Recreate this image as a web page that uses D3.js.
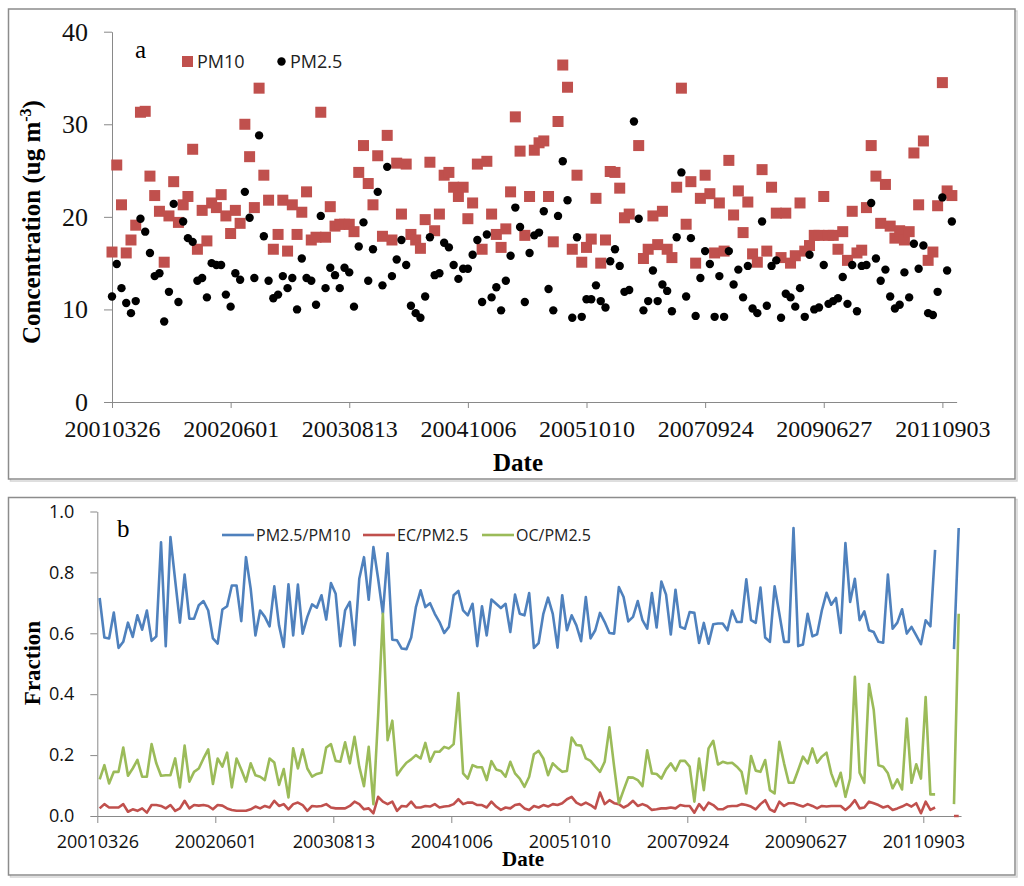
<!DOCTYPE html>
<html><head><meta charset="utf-8">
<script src="https://cdn.jsdelivr.net/npm/d3@7"></script>
<style>body{margin:0;background:#fff}svg{display:block}</style>
</head><body>
<svg id="c" width="1024" height="886"></svg>
<script>
// ---------- DATA ----------
const dateLabels = ["20010326","20020601","20030813","20041006","20051010","20070924","20090627","20110903"];
const labelIndex = [0,25,50,75,100,125,150,175];

const pm10 = [16.2,25.6,21.3,16.1,17.5,19.1,31.3,31.4,24.4,22.3,
20.6,15.1,20.1,23.8,19.4,21.3,22.2,27.3,16.5,20.7,
17.4,21.5,21.0,22.4,20.1,18.2,20.7,19.3,30.0,26.5,
21.0,33.9,24.5,21.8,16.5,18.1,21.8,16.3,21.3,18.1,
20.5,22.7,17.5,17.8,31.3,17.8,21.1,19.0,19.2,19.2,
19.2,18.4,24.8,27.7,23.6,21.3,26.6,17.9,28.8,17.5,
25.8,20.3,25.7,18.1,17.5,16.6,19.7,25.9,18.5,20.3,
24.5,24.8,23.2,22.2,23.2,19.8,21.5,25.7,16.5,26.0,
20.3,18.1,16.7,18.7,22.7,30.8,27.1,18.0,22.2,27.2,
28.0,28.2,22.2,17.3,30.3,36.4,34.0,16.5,24.5,15.1,
16.7,17.6,22.0,15.0,17.5,24.9,24.8,23.1,19.9,20.3,
null,27.7,15.5,16.5,20.1,17.0,20.6,16.5,15.6,23.2,
33.9,19.2,23.8,15.0,22.0,24.5,22.5,16.1,21.5,16.3,
26.1,20.2,22.8,18.3,21.6,16.0,15.1,25.1,16.3,23.2,
20.4,15.6,20.4,15.0,15.8,21.5,16.3,16.9,18.0,18.0,
22.2,18.0,18.0,16.5,18.4,15.3,20.6,16.1,16.4,21.0,
27.7,24.4,19.3,23.5,19.0,17.7,18.5,17.5,18.4,26.9,
21.3,28.2,15.3,16.2,21.2,34.5,22.8,22.3];

const pm25 = [11.4,14.9,12.3,10.7,9.6,10.9,19.8,18.4,16.1,13.6,
13.9,8.7,11.9,21.4,10.8,19.5,17.7,17.3,13.1,13.4,
11.3,15.0,14.8,14.8,11.6,10.3,13.9,13.2,22.7,19.9,
13.4,28.8,17.9,13.1,11.2,11.6,13.6,12.3,13.4,10.0,
15.5,13.4,13.1,10.5,20.1,12.3,14.5,13.7,12.3,14.5,
14.0,10.3,16.8,19.4,13.1,16.5,22.7,12.6,25.4,13.6,
15.4,17.5,14.8,10.4,9.6,9.1,11.4,17.8,13.7,13.9,
17.2,16.7,14.8,13.3,14.4,14.4,15.9,17.5,10.8,18.1,
11.3,12.4,9.9,13.1,15.8,21.0,18.9,10.8,16.1,18.0,
18.3,20.6,12.2,9.9,20.1,26.0,21.8,9.1,17.8,9.2,
11.1,11.1,12.6,10.9,10.2,15.2,16.5,14.7,11.9,12.1,
30.3,19.8,9.9,10.9,14.2,10.9,12.7,12.0,9.8,17.8,
24.8,11.4,17.7,9.3,13.4,16.3,14.9,9.2,13.6,9.2,
16.3,12.7,14.3,11.3,14.7,10.1,9.6,19.5,10.4,14.7,
15.3,9.1,11.7,11.3,10.3,12.3,9.2,15.9,10.0,10.2,
14.8,10.6,10.9,11.2,13.5,10.6,14.8,9.8,14.7,14.8,
21.5,15.5,13.1,14.3,11.4,10.1,10.5,14.0,11.3,17.1,
14.4,16.9,9.6,9.4,11.9,22.1,14.2,19.5];

const ratioPM = [0.716,0.586,0.583,0.668,0.552,0.572,0.635,0.588,0.659,0.612,
0.675,0.575,0.590,0.899,0.558,0.916,0.774,0.635,0.793,0.648,
0.648,0.692,0.706,0.675,0.583,0.566,0.678,0.689,0.757,0.757,
0.640,0.850,0.746,0.593,0.675,0.654,0.623,0.754,0.626,0.555,
0.761,0.593,0.760,0.599,0.654,0.695,0.684,0.725,0.645,0.765,
0.730,0.558,0.675,0.703,0.561,0.779,0.850,0.710,0.883,0.779,
0.664,0.863,0.579,0.577,0.550,0.548,0.586,0.686,0.741,0.686,
0.699,0.664,0.637,0.601,0.621,0.725,0.739,0.675,0.659,0.697,
0.558,0.689,0.593,0.711,0.697,0.683,0.697,0.604,0.727,0.664,
0.659,0.732,0.552,0.568,0.664,0.717,0.664,0.553,0.725,0.610,
0.659,0.626,0.574,0.719,0.583,0.610,0.667,0.637,0.601,0.599,
0.752,0.719,0.639,0.654,0.706,0.643,0.615,0.732,0.619,0.770,
0.727,0.596,0.743,0.621,0.615,0.670,0.667,0.568,0.634,0.566,
0.630,0.632,0.632,0.610,0.675,0.637,0.637,0.777,0.643,0.634,
0.750,0.586,0.572,0.754,0.664,0.572,0.572,0.946,0.558,0.563,
0.664,0.590,0.597,0.675,0.733,0.694,0.716,0.601,0.896,0.703,
0.779,0.643,0.672,0.610,0.604,0.572,0.569,0.793,0.615,0.635,
0.679,0.599,0.621,0.593,0.564,0.643,0.623,0.874,null,null,
null,0.548,0.946];

const ecRatio = [0.025,0.039,0.028,0.028,0.028,0.039,0.014,0.022,0.017,0.025,
0.011,0.036,0.036,0.033,0.025,0.036,0.017,0.025,0.050,0.025,
0.036,0.034,0.036,0.033,0.022,0.036,0.034,0.025,0.020,0.017,
0.017,0.017,0.022,0.031,0.025,0.033,0.028,0.050,0.033,0.039,
0.022,0.039,0.044,0.036,0.017,0.033,0.031,0.033,0.039,0.028,
0.025,0.025,0.025,0.033,0.047,0.039,0.022,0.025,0.009,0.063,
0.047,0.039,0.047,0.017,0.033,0.031,0.047,0.028,0.028,0.033,
0.031,0.039,0.028,0.031,0.033,0.039,0.055,0.039,0.044,0.044,
0.036,0.036,0.028,0.047,0.031,0.020,0.028,0.025,0.036,0.039,
0.025,0.020,0.033,0.028,0.036,0.031,0.039,0.036,0.042,0.055,
0.063,0.044,0.036,0.044,0.036,0.025,0.077,0.039,0.052,0.042,
0.039,0.028,0.036,0.050,0.033,0.039,0.033,0.020,0.022,0.025,
0.025,0.028,0.025,0.036,0.033,0.033,0.011,0.039,0.020,0.044,
0.036,0.022,0.022,0.031,0.033,0.033,0.039,0.036,0.031,0.022,
0.039,0.052,0.022,0.014,0.047,0.033,0.042,0.042,0.036,0.031,
0.039,0.033,0.025,0.033,0.031,0.033,0.033,0.033,0.020,0.033,
0.052,0.025,0.028,0.047,0.042,0.036,0.028,0.033,0.020,0.025,
0.031,0.039,0.031,0.042,0.009,0.047,0.020,0.028,null,null,
null,0.0,0.0];

const ocRatio = [0.120,0.167,0.107,0.145,0.145,0.225,0.132,0.156,0.184,0.129,
0.129,0.236,0.173,0.132,0.134,0.134,0.189,0.094,0.231,0.113,
0.145,0.156,0.189,0.219,0.105,0.189,0.162,0.208,0.094,0.189,
0.153,0.113,0.173,0.134,0.129,0.118,0.189,0.176,0.102,0.154,
0.061,0.222,0.156,0.219,0.156,0.129,0.138,0.142,0.225,0.236,
0.181,0.178,0.242,0.173,0.260,0.162,0.098,0.227,0.039,0.330,
0.664,0.249,0.313,0.134,0.156,0.175,0.186,0.200,0.189,0.240,
0.178,0.211,0.211,0.227,0.222,0.236,0.404,0.140,0.123,0.167,
0.160,0.160,0.118,0.180,0.153,0.148,0.129,0.178,0.140,0.123,
0.096,0.129,0.203,0.214,0.189,0.134,0.173,0.158,0.145,0.148,
0.258,0.233,0.231,0.189,0.181,0.162,0.145,0.178,0.291,0.162,
0.042,0.085,0.127,0.126,0.118,0.098,0.216,0.140,0.138,0.123,
0.153,0.173,0.149,0.181,0.181,0.162,0.047,0.189,0.085,0.222,
0.247,0.169,0.178,0.173,0.175,0.162,0.145,0.074,0.197,0.149,
0.145,0.184,0.085,0.074,0.244,0.173,0.109,0.109,0.151,0.195,
0.173,0.222,0.175,0.195,0.208,0.140,0.098,0.142,0.063,0.123,
0.457,0.142,0.109,0.433,0.348,0.167,0.162,0.140,0.091,0.120,
0.087,0.320,0.109,0.170,0.123,0.391,0.071,0.071,null,null,
null,0.039,0.664];

const yTicksA = [0,10,20,30,40];
const yTicksB = [0,0.2,0.4,0.6,0.8,1.0];

// ---------- DRAW ----------
const svg = d3.select("#c");
const AX = "#898989";
const serif = "'Liberation Serif','Times New Roman',serif";
const sans = "'Open Sans','Liberation Sans',sans-serif";
const C = {pm10:"#C0504D", pm25:"#000000", blue:"#4F81BD", red:"#C0504D", green:"#9BBB59"};

// panel frames (with light shadow)
[[8.5,9,1006.5,470],[8.5,497.5,1006.5,377.5]].forEach(([x,y,w,h])=>{
  svg.append("rect").attr("x",x+2).attr("y",y+2).attr("width",w).attr("height",h)
    .attr("fill","none").attr("stroke","#d4d4d4").attr("stroke-width",1.5);
  svg.append("rect").attr("x",x).attr("y",y).attr("width",w).attr("height",h)
    .attr("fill","#fff").attr("stroke","#8c8c8c").attr("stroke-width",1.5);
});

// ===== Panel a =====
const nA = pm10.length;
const xA = d3.scaleLinear().domain([0, nA]).range([112, 112 + nA*4.745]);
const yA = d3.scaleLinear().domain([0, 40]).range([402, 31.7]);

function styleAxis(g, font, size){
  g.selectAll("path,line").attr("stroke", AX).attr("stroke-width",1);
  g.selectAll("text").attr("font-family", font).attr("font-size", size).attr("fill","#111");
}

const gxA = svg.append("g").attr("transform","translate(0,402)")
  .call(d3.axisBottom(xA).tickValues(labelIndex).tickFormat((d,i)=>dateLabels[i])
    .tickSize(6).tickSizeOuter(0).tickPadding(12));
styleAxis(gxA, serif, 24);
const gyA = svg.append("g").attr("transform","translate(112,0)")
  .call(d3.axisLeft(yA).tickValues(yTicksA).tickFormat(d3.format("d"))
    .tickSize(8).tickSizeOuter(0).tickPadding(16));
styleAxis(gyA, serif, 26);

// squares PM10
const sq = 11;
svg.append("g").selectAll("rect").data(pm10.map((v,i)=>({v,i})).filter(d=>d.v!=null))
  .join("rect")
  .attr("x", d=>xA(d.i)-sq/2).attr("y", d=>yA(d.v)-sq/2)
  .attr("width", sq).attr("height", sq).attr("fill", C.pm10);
// dots PM2.5
svg.append("g").selectAll("circle").data(pm25.map((v,i)=>({v,i})).filter(d=>d.v!=null))
  .join("circle")
  .attr("cx", d=>xA(d.i)).attr("cy", d=>yA(d.v)).attr("r", 4.2).attr("fill", C.pm25);

// label a + legend
svg.append("text").attr("x",135).attr("y",58).attr("font-family",serif).attr("font-size",25).text("a");
svg.append("rect").attr("x",182).attr("y",56).attr("width",11).attr("height",11).attr("fill",C.pm10);
svg.append("text").attr("x",197).attr("y",68).attr("font-family",sans).attr("font-size",18).attr("fill","#222").text("PM10");
svg.append("circle").attr("cx",281.5).attr("cy",61.5).attr("r",4.2).attr("fill",C.pm25);
svg.append("text").attr("x",290).attr("y",68).attr("font-family",sans).attr("font-size",18).attr("fill","#222").text("PM2.5");

// axis titles a
const ytA = svg.append("text").attr("transform","translate(40,222) rotate(-90)")
  .attr("text-anchor","middle").attr("font-family",serif).attr("font-size",25).attr("font-weight","bold");
ytA.append("tspan").text("Concentration (ug m");
ytA.append("tspan").attr("dy",-9).attr("font-size",16).text("-3");
ytA.append("tspan").attr("dy",9).text(")");
svg.append("text").attr("x",518).attr("y",471).attr("text-anchor","middle")
  .attr("font-family",serif).attr("font-size",25).attr("font-weight","bold").text("Date");

// ===== Panel b =====
const nB = ratioPM.length;
const xB = d3.scaleLinear().domain([0, nB]).range([97.3, 97.3 + nB*4.72]);
const yB = d3.scaleLinear().domain([0, 1]).range([816, 511.5]);

const gxB = svg.append("g").attr("transform","translate(0,816)")
  .call(d3.axisBottom(xB).tickValues(labelIndex).tickFormat((d,i)=>dateLabels[i])
    .tickSize(7).tickSizeOuter(0).tickPadding(12));
styleAxis(gxB, sans, 18);
const gyB = svg.append("g").attr("transform","translate(97.3,0)")
  .call(d3.axisLeft(yB).tickValues(yTicksB).tickFormat(d3.format(".1f"))
    .tickSize(7).tickSizeOuter(0).tickPadding(16));
styleAxis(gyB, sans, 18);

const line = d3.line().defined(d=>d.v!=null).x(d=>xB(d.i+0.5)).y(d=>yB(d.v));
[[ratioPM,C.blue],[ecRatio,C.red],[ocRatio,C.green]].forEach(([arr,col])=>{
  svg.append("path").datum(arr.map((v,i)=>({v,i})))
    .attr("d", line).attr("fill","none").attr("stroke",col)
    .attr("stroke-width",2.6).attr("stroke-linejoin","round");
});

svg.append("text").attr("x",117).attr("y",537).attr("font-family",serif).attr("font-size",25).text("b");
const legB = [["PM2.5/PM10",C.blue,222],["EC/PM2.5",C.red,363],["OC/PM2.5",C.green,482]];
legB.forEach(([t,col,x])=>{
  svg.append("line").attr("x1",x).attr("x2",x+32).attr("y1",535).attr("y2",535)
    .attr("stroke",col).attr("stroke-width",2.6);
  svg.append("text").attr("x",x+34).attr("y",541).attr("font-family",sans).attr("font-size",16)
    .attr("fill","#222").text(t);
});

svg.append("text").attr("transform","translate(40,663) rotate(-90)").attr("text-anchor","middle")
  .attr("font-family",serif).attr("font-size",23).attr("font-weight","bold").text("Fraction");
svg.append("text").attr("x",523).attr("y",866).attr("text-anchor","middle")
  .attr("font-family",serif).attr("font-size",21).attr("font-weight","bold").text("Date");
</script>
</body></html>
